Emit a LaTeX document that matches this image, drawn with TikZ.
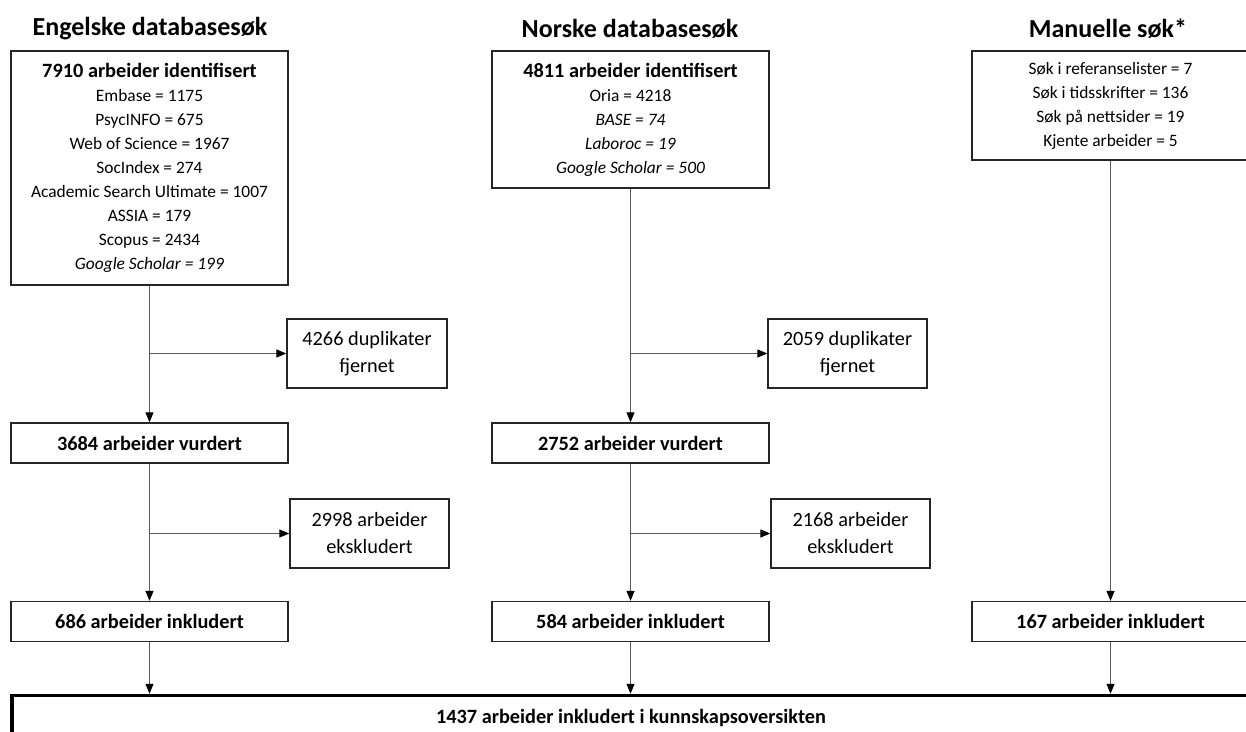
\documentclass[tikz,border=0pt]{standalone}
\usepackage{fontspec}
\setmainfont{Carlito}
\usetikzlibrary{arrows.meta, positioning, calc}

\begin{document}
\begin{tikzpicture}[
        x=1pt, y=-1pt,
        title/.style={font=\fontsize{26}{30}\selectfont\bfseries, anchor=center},
        srcbox/.style={rectangle, draw=black!85, line width=1.3pt, minimum width=277pt, inner sep=0pt, align=center, font=\fontsize{17.4}{24}\selectfont},
        sidebox/.style={rectangle, draw=black!85, line width=1.3pt, minimum height=69pt, inner sep=0pt, align=center, font=\fontsize{20.3}{27}\selectfont},
        stagebox/.style={rectangle, draw=black!85, line width=1.3pt, minimum width=277pt, minimum height=40pt, inner sep=0pt, align=center, font=\fontsize{20.3}{24}\selectfont\bfseries},
        finalbox/.style={rectangle, draw=black, line width=3.5pt, minimum width=1238pt, minimum height=44pt, inner sep=0pt, align=center, font=\fontsize{20.3}{24}\selectfont\bfseries},
        flow/.style={-{Triangle[length=10pt, width=8pt, color=black]}, draw=black!65, line width=1.1pt}
    ]
        \useasboundingbox (0,0) rectangle (1246,731);
        \clip (0,0) rectangle (1246,731);

        % ENGELSKE DATABASER
        \node[title] (eng_title) at (150,29) {Engelske databasesøk};
        \node[srcbox, minimum height=234pt] (eng_id) at (149.5,168) {{\fontsize{20.3}{24}\selectfont\bfseries 7910 arbeider identifisert}\\Embase = 1175\\PsycINFO = 675\\Web of Science = 1967\\SocIndex = 274\\Academic Search Ultimate = 1007\\ASSIA = 179\\Scopus = 2434\\\textit{Google Scholar = 199}};
        \node[sidebox, minimum width=160pt] (eng_dup) at (367,353.5) {4266 duplikater\\fjernet};
        \node[stagebox] (eng_eval) at (149.5,443) {3684 arbeider vurdert};
        \node[sidebox, minimum width=159pt] (eng_excl) at (369.5,533.5) {2998 arbeider\\ekskludert};
        \node[stagebox] (eng_inc) at (149.5,621.5) {686 arbeider inkludert};

        % NORSKE DATABASER
        \node[title] (nor_title) at (630,29) {Norske databasesøk};
        \node[srcbox, minimum height=137pt] (nor_id) at (630.5,119.5) {{\fontsize{20.3}{24}\selectfont\bfseries 4811 arbeider identifisert}\\Oria = 4218\\\textit{BASE = 74}\\\textit{Laboroc = 19}\\\textit{Google Scholar = 500}};
        \node[sidebox, minimum width=159pt] (nor_dup) at (847.5,353.5) {2059 duplikater\\fjernet};
        \node[stagebox] (nor_eval) at (630.5,443) {2752 arbeider vurdert};
        \node[sidebox, minimum width=159pt] (nor_excl) at (850.5,533.5) {2168 arbeider\\ekskludert};
        \node[stagebox] (nor_inc) at (630.5,621.5) {584 arbeider inkludert};

        % MANUELLE SØK
        \node[title] (man_title) at (1108,29) {Manuelle søk*};
        \node[srcbox, minimum height=109pt] (man_id) at (1110.5,105.5) {Søk i referanselister = 7\\Søk i tidsskrifter = 136\\Søk på nettsider = 19\\Kjente arbeider = 5};
        \node[stagebox] (man_inc) at (1110.5,621.5) {167 arbeider inkludert};

        % RESULTAT
        \node[finalbox] (final) at (631,717.5) {1437 arbeider inkludert i kunnskapsoversikten};

        % FLOWS
        \coordinate (eng_split1) at (eng_id.south |- eng_dup.west);
        \coordinate (eng_split2) at (eng_id.south |- eng_excl.west);
        \coordinate (nor_split1) at (nor_id.south |- nor_dup.west);
        \coordinate (nor_split2) at (nor_id.south |- nor_excl.west);

        \draw[flow] (eng_id.south) -- (eng_eval.north);
        \draw[flow] (eng_split1) -- (eng_dup.west);
        \draw[flow] (eng_eval.south) -- (eng_inc.north);
        \draw[flow] (eng_split2) -- (eng_excl.west);

        \draw[flow] (nor_id.south) -- (nor_eval.north);
        \draw[flow] (nor_split1) -- (nor_dup.west);
        \draw[flow] (nor_eval.south) -- (nor_inc.north);
        \draw[flow] (nor_split2) -- (nor_excl.west);

        \draw[flow] (man_id.south) -- (man_inc.north);

        \draw[flow] (eng_inc.south) -- (eng_inc.south |- final.north);
        \draw[flow] (nor_inc.south) -- (nor_inc.south |- final.north);
        \draw[flow] (man_inc.south) -- (man_inc.south |- final.north);

    \end{tikzpicture}
\end{document}
